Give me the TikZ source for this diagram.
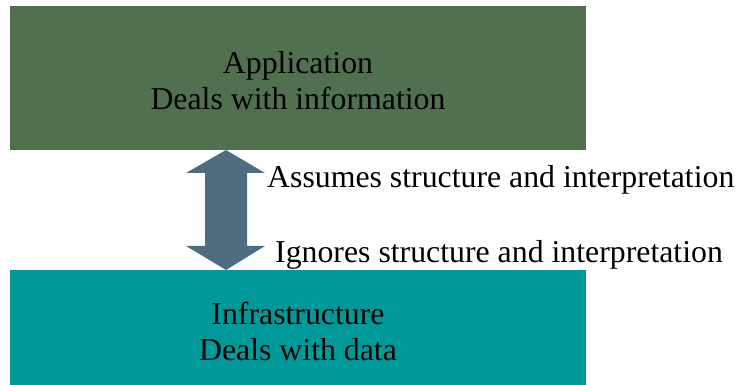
\documentclass[tikz,border=0pt]{standalone}
\usepackage{fontspec}
\setmainfont{Liberation Serif}
\definecolor{appgreen}{HTML}{507050}
\definecolor{infteal}{HTML}{009999}
\definecolor{arrowslate}{HTML}{4E6D80}
\begin{document}
\begin{tikzpicture}[x=1pt,y=1pt,
  layerbox/.style={fill=#1, draw=none, minimum width=576pt, inner sep=0pt},
  boxtext/.style={inner sep=0pt, align=center, font=\fontsize{31.8}{36}\selectfont, text=black},
  sidelabel/.style={anchor=base west, inner sep=0pt, font=\fontsize{31.8}{36}\selectfont, text=black}]
\useasboundingbox (0,0) rectangle (741,385);
\fill[white] (0,0) rectangle (741,385);
\node[layerbox=appgreen, minimum height=144pt] (app) at (298,307) {};
\node[layerbox=infteal, minimum height=115pt] (inf) at (298,57.5) {};
\node[boxtext] (apptext) at ([yshift=-2.5pt]app.center) {Application\\Deals with information};
\node[boxtext] (inftext) at ([yshift=-3.5pt]inf.center) {Infrastructure\\Deals with data};
\coordinate (ttip) at (226,235);
\coordinate (btip) at (226,115);
\fill[arrowslate] (ttip) -- (265,212) -- (247,212) -- (247,139) -- (265,139) -- (btip)
  -- (186,139) -- (205,139) -- (205,212) -- (186,212) -- cycle;
\node[sidelabel] (assumes) at (267,197) {Assumes structure and interpretation};
\node[sidelabel] (ignores) at (275,122) {Ignores structure and interpretation};
\end{tikzpicture}
\end{document}
